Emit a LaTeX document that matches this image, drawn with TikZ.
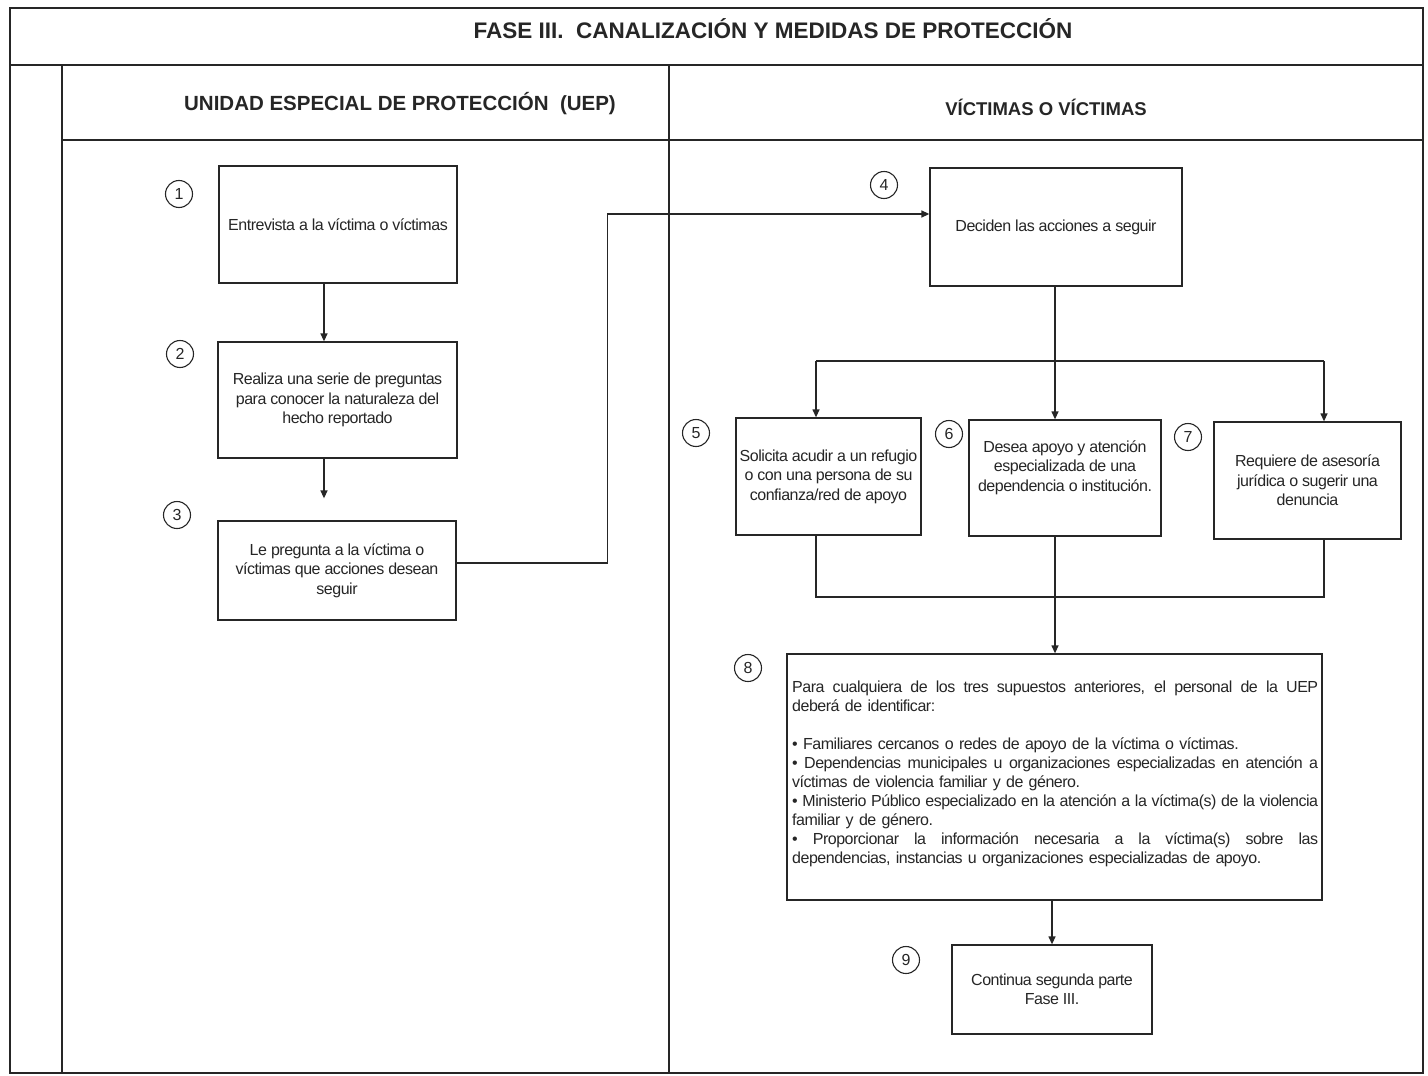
\documentclass[tikz,border=0pt]{standalone}
\usepackage{fontspec}
\setmainfont{Liberation Sans}
\newfontfamily\bodyfont{Liberation Sans}[LetterSpace=-3]
\usetikzlibrary{arrows.meta}
\definecolor{ink}{HTML}{262626}
\newcommand{\fullline}[1]{\leavevmode\hbox to 526pt{\spaceskip=4pt plus 1fil minus 2pt\relax #1}}
\begin{document}
\begin{tikzpicture}[x=1pt,y=-1pt,
  frame/.style={draw=ink,line width=1.4pt},
  box/.style={draw=ink,line width=1.3pt,rectangle,align=center,inner sep=2pt,text=ink,font=\bodyfont\fontsize{16}{19.5}\selectfont},
  num/.style={draw=ink,line width=1.1pt,circle,minimum size=27pt,inner sep=0pt,text=ink,font=\fontsize{16}{18}\selectfont},
  conn/.style={draw=ink,line width=1.3pt},
  arr/.style={conn,-{Triangle[length=8pt,width=7pt]}},
  head/.style={text=ink,font=\bfseries\fontsize{20.5}{22}\selectfont}]
\useasboundingbox (0,0) rectangle (1428,1076);
\fill[white] (0,0) rectangle (1428,1076);
% frame
\draw[frame] (10,8) rectangle (1423,1073);
\draw[frame] (10,65) -- (1423,65);
\draw[frame] (62,65) -- (62,1073);
\draw[frame] (62,140) -- (1423,140);
\draw[frame] (669,65) -- (669,1073);
\node[head,font=\bfseries\fontsize{22.5}{24}\selectfont] (title) at (773,29) {FASE III.\ \ CANALIZACIÓN Y MEDIDAS DE PROTECCIÓN};
\node[head] (h1) at (400,104) {UNIDAD ESPECIAL DE PROTECCIÓN\ \ (UEP)};
\node[head,font=\bfseries\fontsize{18.5}{20}\selectfont] (h2) at (1046,107) {VÍCTIMAS O VÍCTIMAS};
% boxes
\node[box,minimum width=238pt,minimum height=117pt] (b1) at (338,224.5) {Entrevista a la víctima o víctimas};
\node[box,minimum width=239pt,minimum height=116pt] (b2) at (337.5,400) {Realiza una serie de preguntas\\para conocer la naturaleza del\\hecho reportado};
\node[box,minimum width=238pt,minimum height=99pt] (b3) at (337,570.5) {Le pregunta a la víctima o\\víctimas que acciones desean\\seguir};
\node[box,minimum width=252pt,minimum height=118pt] (b4) at (1056,227) {Deciden las acciones a seguir};
\node[box,minimum width=185pt,minimum height=117pt] (b5) at (828.5,476.5) {Solicita acudir a un refugio\\o con una persona de su\\confianza/red de apoyo};
\node[box,minimum width=192pt,minimum height=116pt] (b6) at (1065,478) {Desea apoyo y atención\\especializada de una\\dependencia o institución.\\[4.5pt]\mbox{}};
\node[box,minimum width=187pt,minimum height=117pt] (b7) at (1307.5,480.5) {Requiere de asesoría\\jurídica o sugerir una\\denuncia};
\node[box,minimum width=535pt,minimum height=246pt] (b8) at (1054.5,777) {};
\node[anchor=north west,inner sep=0pt,text width=526pt,align=left,text=ink,font=\bodyfont\fontsize{16}{19}\selectfont] (t8) at (792,681) {%
\fullline{Para cualquiera de los tres supuestos anteriores, el personal de la UEP}\\
deberá de identificar:\\[19pt]
• Familiares cercanos o redes de apoyo de la víctima o víctimas.\\
\fullline{• Dependencias municipales u organizaciones especializadas en atención a}\\
víctimas de violencia familiar y de género.\\
\fullline{• Ministerio Público especializado en la atención a la víctima(s) de la violencia}\\
familiar y de género.\\
\fullline{• Proporcionar la información necesaria a la víctima(s) sobre las}\\
dependencias, instancias u organizaciones especializadas de apoyo.};
\node[box,minimum width=200pt,minimum height=89pt] (b9) at (1052,989.5) {Continua segunda parte\\Fase III.};
% numbers
\node[num] (n1) at (179,194) {1};
\node[num] (n2) at (180,354) {2};
\node[num] (n3) at (177,515) {3};
\node[num] (n4) at (884,185) {4};
\node[num] (n5) at (696,433) {5};
\node[num] (n6) at (949,434) {6};
\node[num] (n7) at (1188,437) {7};
\node[num] (n8) at (748,668) {8};
\node[num] (n9) at (906,960) {9};
% connectors
\coordinate (ax) at (324,0);
\draw[arr] (b1.south -| ax) -- (b2.north -| ax);
\draw[arr,shorten >=22pt] (b2.south -| ax) -- (b3.north -| ax);
\draw[arr] ([yshift=7.5pt]b3.east) -- ++(151,0) |- ([yshift=13pt]b4.west);
\coordinate (br) at (1055,361);
\coordinate (jL) at (816,361);
\coordinate (jR) at (1324,361);
\draw[arr] (b4.south -| br) -- (b6.north -| br);
\draw[conn] (jL) -- (jR);
\draw[arr] (jL) -- (jL |- b5.north);
\draw[arr] (jR) -- (jR |- b7.north);
\coordinate (mL) at (816,597);
\coordinate (mR) at (1324,597);
\draw[conn] (mL |- b5.south) -- (mL) -- (mR) -- (mR |- b7.south);
\draw[arr] (b6.south -| br) -- (b8.north -| br);
\draw[arr] (b8.south -| b9.north) -- (b9.north);
\end{tikzpicture}
\end{document}
